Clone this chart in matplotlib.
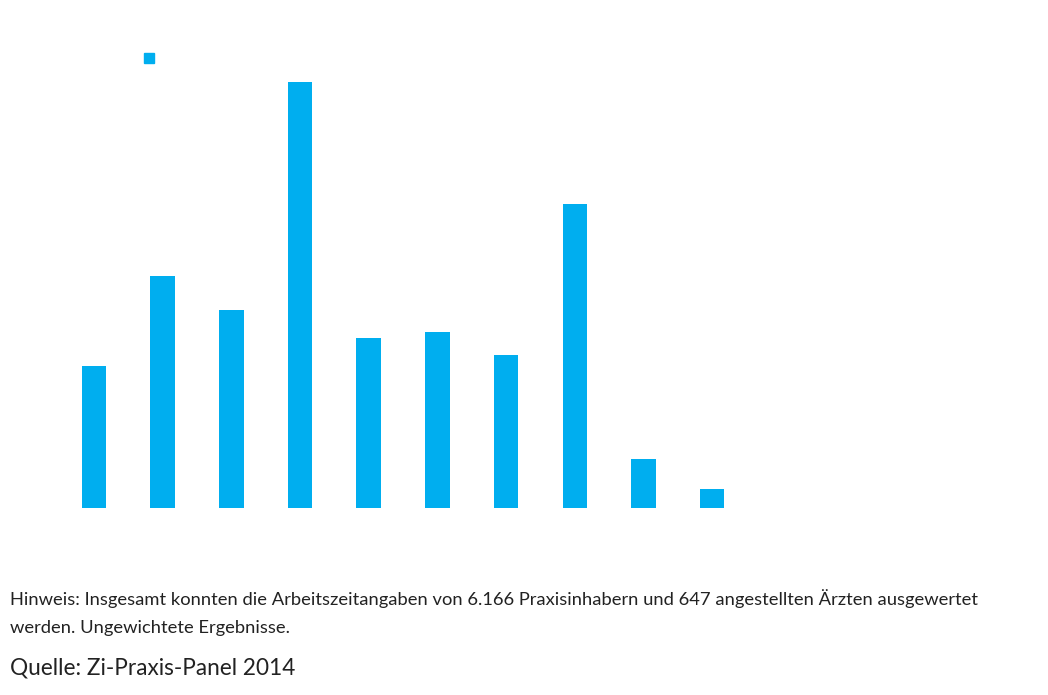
import numpy as np
import matplotlib
matplotlib.use('Agg')
from matplotlib import pyplot as plt
from matplotlib.patches import Patch

# percentage share per working-time class
categories = ['1', '2', '3', '4', '5', '6', '7', '8', '9', '10']
shares = [7.6, 12.4, 10.6, 22.8, 9.1, 9.4, 8.2, 16.3, 2.6, 1.0]
note_lines = ['Hinweis: Insgesamt konnten die Arbeitszeitangaben von 6.166 Praxisinhabern '
              'und 647 angestellten Ärzten ausgewertet',
              'werden. Ungewichtete Ergebnisse.']
source = 'Quelle: Zi-Praxis-Panel 2014'

blue = '#00AEEF'
W, H = 1048, 695

fig = plt.figure(figsize=(W / 100, H / 100), dpi=100)
ax = fig.add_axes([25.2 / W, (H - 507.5) / H, 1030.5 / W, 457.5 / H])

x = np.arange(len(categories))
ax.bar(x, shares, width=0.357, color=blue)
ax.set_xlim(-1, 14)
ax.set_ylim(0, 24.54)
ax.axis('off')

fig.legend(handles=[Patch(color=blue)], labels=[''], loc='center left',
           bbox_to_anchor=(144 / W, 1 - 59 / H), frameon=False, fontsize=10,
           handlelength=0.72, handleheight=0.72, handletextpad=0,
           borderpad=0, borderaxespad=0)

for i, line in enumerate(note_lines):
    fig.text(10 / W, 1 - (605 + 28 * i) / H, line, fontsize=13.2, family='Lato',
             color='#222222', va='baseline', ha='left')
fig.text(10 / W, 1 - 675 / H, source, fontsize=16.3, family='Lato',
         color='#222222', va='baseline', ha='left')

fig.savefig('out.png', dpi=100)
